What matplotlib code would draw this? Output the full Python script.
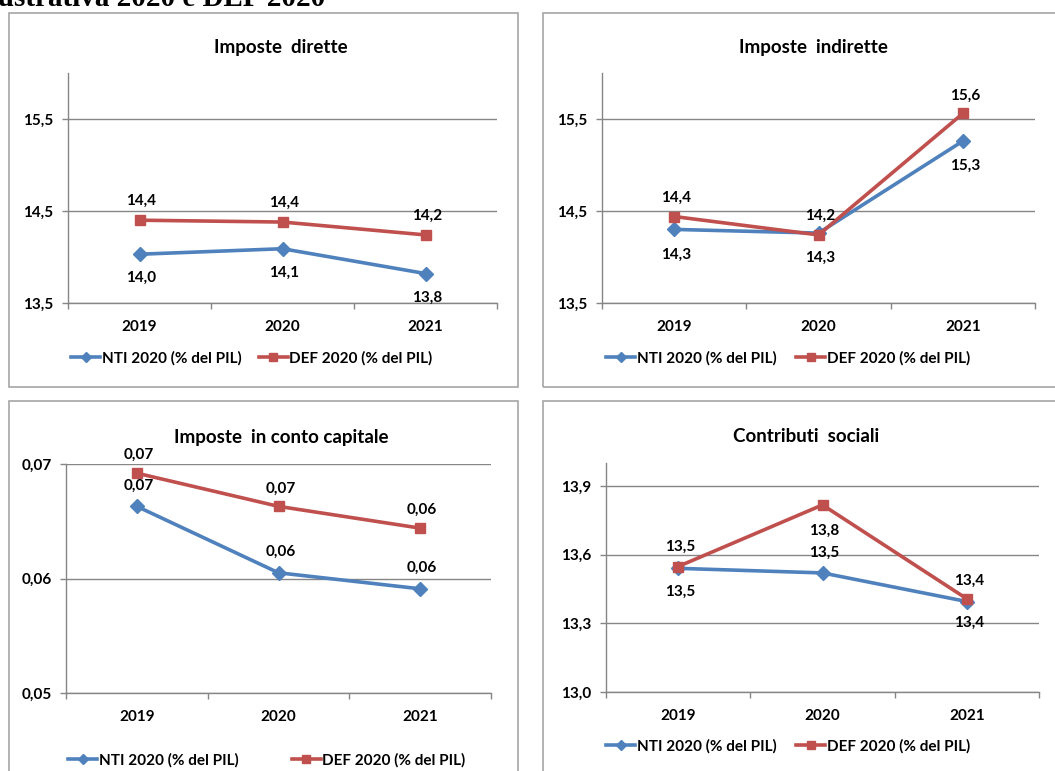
import matplotlib
matplotlib.use('Agg')
import matplotlib.pyplot as plt
from matplotlib.patches import Rectangle
from matplotlib.ticker import FixedLocator, FuncFormatter

# data
years = ['2019', '2020', '2021']
series_names = ['NTI 2020 (% del PIL)', 'DEF 2020 (% del PIL)']

dirette_nti = [14.03, 14.09, 13.82]
dirette_def = [14.40, 14.38, 14.24]
indirette_nti = [14.30, 14.26, 15.26]
indirette_def = [14.44, 14.24, 15.56]
capitale_nti = [0.0663, 0.0605, 0.0591]
capitale_def = [0.0692, 0.0663, 0.0644]
contributi_nti = [13.54, 13.52, 13.395]
contributi_def = [13.548, 13.817, 13.407]

titles = ['Imposte  dirette', 'Imposte  indirette',
          'Imposte  in conto capitale', 'Contributi  sociali']
yticks = [[13.5, 14.5, 15.5], [13.5, 14.5, 15.5],
          [0.05, 0.06, 0.07], [13.0, 13.3, 13.6, 13.9]]
ylims = [(13.5, 16.0), (13.5, 16.0), (0.05, 0.07), (13.0, 14.0)]
decimals = [1, 1, 2, 1]

W, H = 1055, 771
BLUE = '#4F81BD'
RED = '#C0504D'
GRID = '#868686'
FONT = 'Lato'

plt.rcParams['font.family'] = [FONT, 'DejaVu Sans']
plt.rcParams['font.weight'] = 'bold'

fig = plt.figure(figsize=(W / 100, H / 100), dpi=100)
fig.patch.set_facecolor('white')


def fx(px):
    return px / W


def fy(py):
    return 1 - py / H


def comma(v, d):
    return f'{v:.{d}f}'.replace('.', ',')


# layout in pixels: frame box, plot area, title centre, legend anchor
panels = [
    dict(nti=dirette_nti, dfe=dirette_def,
         box=(9, 13, 518, 387), plot=(68, 73, 497, 303), title=(281, 47),
         leg=(71, 358), colsp=1.15,
         nti_off=[24, 24, 24], def_off=[-19, -19, -19]),
    dict(nti=indirette_nti, dfe=indirette_def,
         box=(543, 13, 1062, 387), plot=(602, 73, 1035, 303), title=(813, 47),
         leg=(606, 358), colsp=1.3,
         nti_off=[25, 25, 25], def_off=[-19, -19, -18]),
    dict(nti=capitale_nti, dfe=capitale_def,
         box=(9, 401, 518, 790), plot=(66, 464, 491, 693), title=(281, 437),
         leg=(68, 760), colsp=3.5,
         nti_off=[-21, -21, -21], def_off=[-18, -18, -18]),
    dict(nti=contributi_nti, dfe=contributi_def,
         box=(543, 401, 1062, 790), plot=(606, 463, 1039, 692), title=(806, 437),
         leg=(606, 746), colsp=1.3,
         nti_off=[23, -20, 21], def_off=[-20, 26, -18]),
]

x = list(range(len(years)))

for i, p in enumerate(panels):
    bx0, by0, bx1, by1 = p['box']
    fig.patches.append(Rectangle((fx(bx0), fy(by1)), fx(bx1 - bx0), (by1 - by0) / H,
                                 transform=fig.transFigure, fill=False,
                                 edgecolor='#A6A6A6', linewidth=1.2))

    l, t, r, b = p['plot']
    ax = fig.add_axes([fx(l), fy(b), fx(r - l), (b - t) / H])
    ax.set_facecolor('none')

    ax.plot(x, p['nti'], color=BLUE, lw=2.6, marker='D', ms=7,
            label=series_names[0], zorder=3, clip_on=False)
    ax.plot(x, p['dfe'], color=RED, lw=2.6, marker='s', ms=7,
            label=series_names[1], zorder=4, clip_on=False)

    d = decimals[i]
    for j in x:
        ax.annotate(comma(p['nti'][j], d), (j, p['nti'][j]), textcoords='offset pixels',
                    xytext=(2, -p['nti_off'][j]), ha='center', va='center',
                    fontsize=11, fontweight='bold', zorder=5)
        ax.annotate(comma(p['dfe'][j], d), (j, p['dfe'][j]), textcoords='offset pixels',
                    xytext=(2, -p['def_off'][j]), ha='center', va='center',
                    fontsize=11, fontweight='bold', zorder=5)

    ax.set_xlim(-0.5, len(years) - 0.5)
    ax.set_ylim(*ylims[i])
    ax.set_yticks(yticks[i])
    ax.yaxis.set_major_formatter(FuncFormatter(lambda v, pos, d=d: comma(v, d)))
    ax.set_xticks(x)
    ax.set_xticklabels(years)
    ax.xaxis.set_minor_locator(FixedLocator([-0.5, 0.5, 1.5, 2.5]))
    ax.tick_params(axis='x', which='major', length=0, pad=12, labelsize=11)
    ax.tick_params(axis='x', which='minor', length=4.5, color=GRID, width=1)
    ax.tick_params(axis='y', length=4.5, color=GRID, width=1, pad=6, labelsize=11)

    ax.grid(axis='y', color=GRID, lw=1)
    ax.set_axisbelow(True)
    for s in ['top', 'right']:
        ax.spines[s].set_visible(False)
    for s in ['left', 'bottom']:
        ax.spines[s].set_color(GRID)
        ax.spines[s].set_linewidth(1)

    fig.text(fx(p['title'][0]), fy(p['title'][1]), titles[i], ha='center', va='center',
             fontsize=13.5, fontweight='bold')

    lx, ly = p['leg']
    ax.legend(loc='center left', bbox_to_anchor=(fx(lx), fy(ly)), bbox_transform=fig.transFigure,
              ncol=2, frameon=False, fontsize=11, handlelength=1.9, handletextpad=0.1,
              columnspacing=p['colsp'], borderpad=0, borderaxespad=0, markerscale=0.75)

fig.text(fx(325), fy(6), 'Nota Illustrativa 2020 e DEF 2020', ha='right', va='baseline',
         fontsize=21, fontweight='bold', family='Liberation Serif')

fig.savefig('out.png', dpi=100, facecolor='white')
